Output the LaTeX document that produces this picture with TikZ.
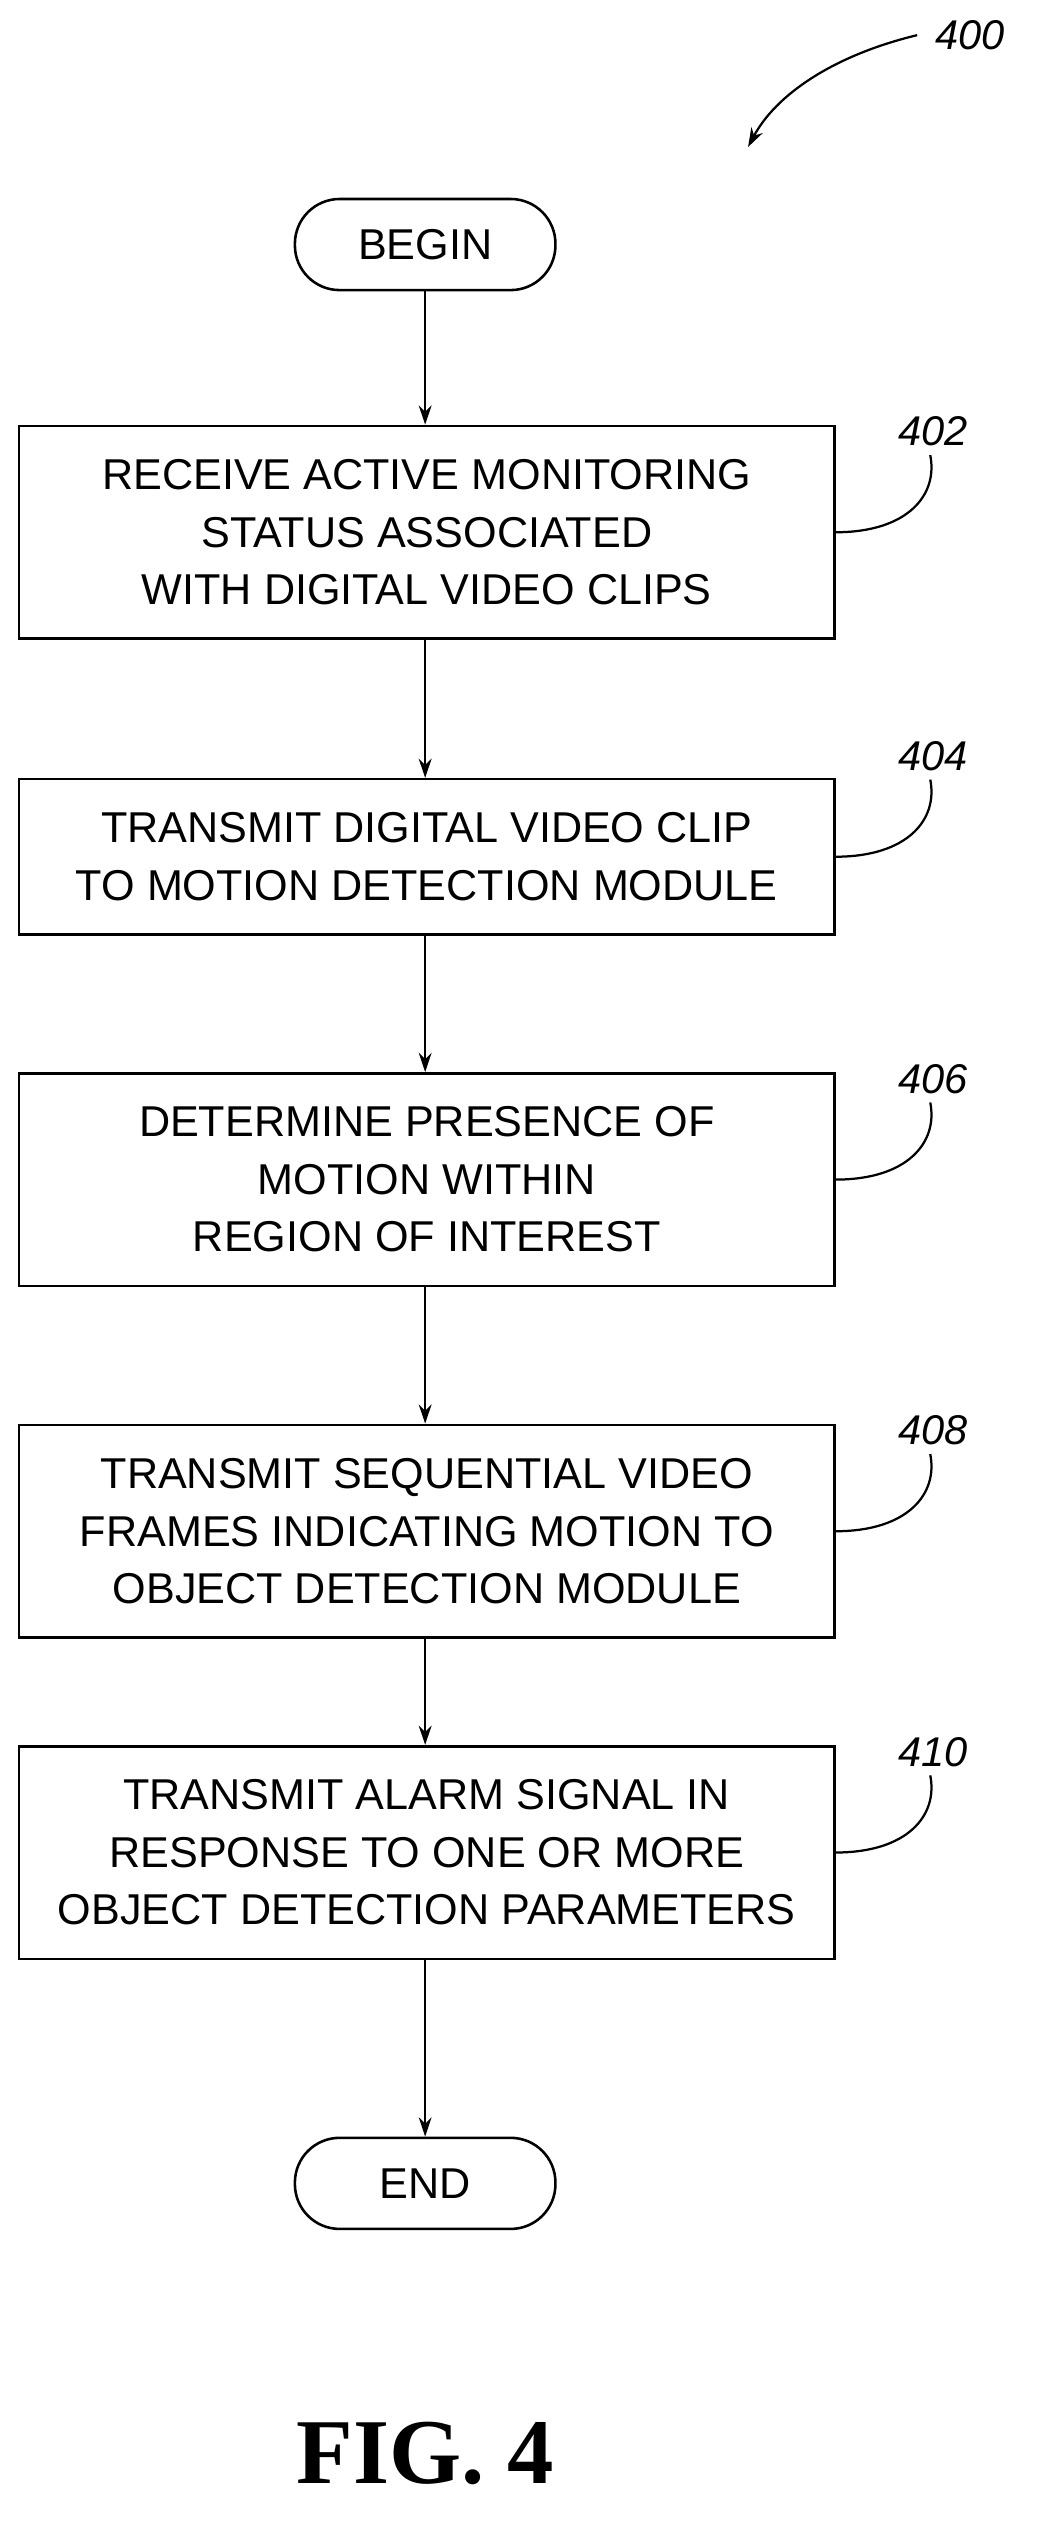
\documentclass[tikz,border=0pt]{standalone}
\usepackage{fontspec}
\setmainfont{Liberation Sans}
\newfontfamily\figfont{Liberation Serif}
\usetikzlibrary{arrows.meta}
\tikzset{
  flowbox/.style={draw,line width=1.6pt,minimum width=510pt,align=center,font=\fontsize{27}{36}\selectfont},
  term/.style={draw,line width=1.6pt,rounded corners=28pt,minimum width=163pt,minimum height=57pt,font=\fontsize{27}{30}\selectfont},
  flow/.style={-{Stealth[length=12pt,width=8pt]},line width=1.4pt},
  ref/.style={font=\itshape\fontsize{26}{28}\selectfont},
  lead/.style={line width=1.4pt}
}
\begin{document}
\begin{tikzpicture}[x=1pt,y=1pt]
    \useasboundingbox[fill=white] (0,0) rectangle (650,-1581);

    \node[term] (begin) at (266,-153) {BEGIN};
    \node[flowbox,minimum height=133pt] (s402) at (267,-333) {RECEIVE ACTIVE MONITORING\\STATUS ASSOCIATED\\WITH DIGITAL VIDEO CLIPS};
    \node[flowbox,minimum height=97pt] (s404) at (267,-536) {TRANSMIT DIGITAL VIDEO CLIP\\TO MOTION DETECTION MODULE};
    \node[flowbox,minimum height=133pt] (s406) at (267,-738) {DETERMINE PRESENCE OF\\MOTION WITHIN\\REGION OF INTEREST};
    \node[flowbox,minimum height=133pt] (s408) at (267,-958) {TRANSMIT SEQUENTIAL VIDEO\\FRAMES INDICATING MOTION TO\\OBJECT DETECTION MODULE};
    \node[flowbox,minimum height=133pt] (s410) at (267,-1159) {TRANSMIT ALARM SIGNAL IN\\RESPONSE TO ONE OR MORE\\OBJECT DETECTION PARAMETERS};
    \node[term] (end) at (266,-1366) {END};

    \draw[flow] (begin) -- (begin|-s402.north);
    \draw[flow] (begin|-s402.south) -- (begin|-s404.north);
    \draw[flow] (begin|-s404.south) -- (begin|-s406.north);
    \draw[flow] (begin|-s406.south) -- (begin|-s408.north);
    \draw[flow] (begin|-s408.south) -- (begin|-s410.north);
    \draw[flow] (begin|-s410.south) -- (end);

    % reference numerals
    \foreach \s/\y in {402/-270,404/-473,406/-675,408/-895,410/-1096} {
        \node[ref] (n\s) at (584,\y) {\s};
        \draw[lead] (s\s.east) .. controls +(45,0) and +(5,-25) .. ([xshift=-2pt,yshift=-2pt]n\s.south);
    }

    \node[ref] (n400) at (607,-22) {400};
    \draw[flow] ([xshift=-8pt]n400.west) .. controls (520,-35) and (485,-60) .. (468,-92);

    \node[font=\figfont\bfseries\fontsize{58}{62}\selectfont] (fig) at (266,-1535) {FIG. 4};
\end{tikzpicture}
\end{document}
